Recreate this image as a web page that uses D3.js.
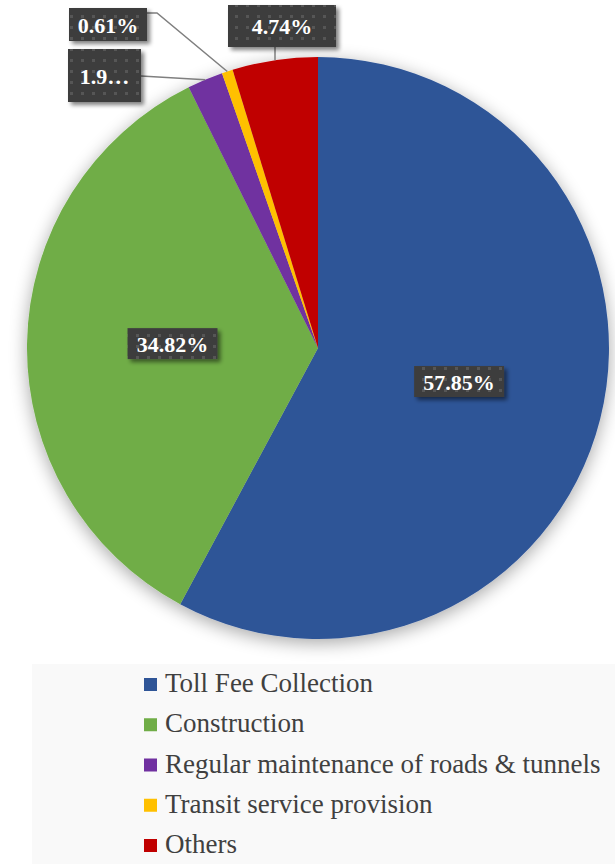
<!DOCTYPE html>
<html>
<head>
<meta charset="utf-8">
<script src="https://cdn.jsdelivr.net/npm/d3@7"></script>
<style>
  body { margin: 0; background: #fff; }
  svg { display: block; }
  svg text { font-family: "Liberation Serif", "Times New Roman", Tinos, "DejaVu Serif", "Noto Serif", serif; }
</style>
</head>
<body>
<div id="chart"></div>
<script>
const svgWidth = 615;
const svgHeight = 864;

// data
const categories = ["Toll Fee Collection", "Construction", "Regular maintenance of roads & tunnels", "Transit service provision", "Others"];
const shares = [57.85, 34.82, 1.98, 0.61, 4.74];
const labelTexts = ["57.85%", "34.82%", "1.9\u2026", "0.61%", "4.74%"];
const colors = ["#2F5597", "#70AD47", "#7030A0", "#FFC000", "#C00000"];

const cx = 318, cy = 348, radius = 291;

const svg = d3.select("#chart")
  .append("svg")
  .attr("width", svgWidth)
  .attr("height", svgHeight);

const defs = svg.append("defs");

// soft glow under the pie
const pieShadow = defs.append("filter").attr("id", "pieShadow")
  .attr("x", "-20%").attr("y", "-20%").attr("width", "140%").attr("height", "140%");
pieShadow.append("feGaussianBlur").attr("in", "SourceAlpha").attr("stdDeviation", 9).attr("result", "b");
pieShadow.append("feOffset").attr("in", "b").attr("dx", 0).attr("dy", 4).attr("result", "o");
pieShadow.append("feComponentTransfer").attr("in", "o").attr("result", "s")
  .append("feFuncA").attr("type", "linear").attr("slope", 0.35);
const m1 = pieShadow.append("feMerge");
m1.append("feMergeNode").attr("in", "s");
m1.append("feMergeNode").attr("in", "SourceGraphic");

// label box shadow
const boxShadow = defs.append("filter").attr("id", "boxShadow")
  .attr("x", "-20%").attr("y", "-30%").attr("width", "150%").attr("height", "170%");
boxShadow.append("feGaussianBlur").attr("in", "SourceAlpha").attr("stdDeviation", 2).attr("result", "b");
boxShadow.append("feOffset").attr("in", "b").attr("dx", 3).attr("dy", 3).attr("result", "o");
boxShadow.append("feComponentTransfer").attr("in", "o").attr("result", "s")
  .append("feFuncA").attr("type", "linear").attr("slope", 0.5);
const m2 = boxShadow.append("feMerge");
m2.append("feMergeNode").attr("in", "s");
m2.append("feMergeNode").attr("in", "SourceGraphic");

// dotted dark texture of the data labels
const pat = defs.append("pattern").attr("id", "dots")
  .attr("patternUnits", "userSpaceOnUse").attr("width", 11).attr("height", 11);
pat.append("rect").attr("width", 11).attr("height", 11).attr("fill", "#3e3e3e");
pat.append("rect").attr("x", 4).attr("y", 4).attr("width", 3).attr("height", 3).attr("fill", "#565656");

const pie = d3.pie().sort(null).value(d => d);
const arcs = pie(shares);

const arc = d3.arc().innerRadius(0).outerRadius(radius);
const midArc = d3.arc().innerRadius(radius * 0.5).outerRadius(radius * 0.5);
const edgeArc = d3.arc().innerRadius(radius).outerRadius(radius);

const pieGroup = svg.append("g")
  .attr("transform", `translate(${cx}, ${cy})`);

pieGroup.append("g")
  .attr("filter", "url(#pieShadow)")
  .selectAll("path")
  .data(arcs)
  .enter()
  .append("path")
  .attr("d", arc)
  .attr("fill", (d, i) => colors[i]);

// label boxes: inner ones sit on the half-radius, outer ones are placed like Excel did
const outside = {
  2: { x: 104.5, y: 75.5, w: 73, h: 53, from: [141, 76] },
  3: { x: 108, y: 24.5, w: 78, h: 33, from: [147, 13], elbow: [157, 13] },
  4: { x: 282, y: 26, w: 108, h: 42, from: [275, 47] }
};

const labelGroup = svg.append("g");

arcs.forEach((d, i) => {
  let x, y, w, h;
  if (outside[i]) {
    const o = outside[i];
    x = o.x; y = o.y; w = o.w; h = o.h;
    const end = edgeArc.centroid(d);
    const ex = cx + end[0], ey = cy + end[1];
    const pts = [o.from];
    if (o.elbow) pts.push(o.elbow);
    pts.push([i === 4 ? o.from[0] : ex, ey]);
    labelGroup.append("path")
      .attr("d", d3.line()(pts))
      .attr("fill", "none")
      .attr("stroke", "#7f7f7f")
      .attr("stroke-width", 1.5);
  } else {
    const c = midArc.centroid(d);
    x = cx + c[0]; y = cy + c[1] - 2;
    w = 90; h = 31;
  }
  labelGroup.append("rect")
    .attr("x", x - w / 2)
    .attr("y", y - h / 2)
    .attr("width", w)
    .attr("height", h)
    .attr("fill", "url(#dots)")
    .attr("filter", "url(#boxShadow)");
  labelGroup.append("text")
    .attr("x", x)
    .attr("y", y + 8)
    .attr("text-anchor", "middle")
    .attr("font-weight", "bold")
    .attr("font-size", 22)
    .attr("fill", "#fff")
    .text(labelTexts[i]);
});

// legend
svg.append("rect")
  .attr("x", 32).attr("y", 664)
  .attr("width", svgWidth - 32).attr("height", svgHeight - 664)
  .attr("fill", "#f9f9f9");

const legendY = d3.scalePoint()
  .domain(categories)
  .range([692, 853]);

const legend = svg.append("g")
  .selectAll("g")
  .data(categories)
  .enter()
  .append("g")
  .attr("transform", d => `translate(144, ${legendY(d)})`);

legend.append("rect")
  .attr("x", 0).attr("y", -14)
  .attr("width", 13).attr("height", 13)
  .attr("fill", (d, i) => colors[i]);

legend.append("text")
  .attr("x", 21)
  .attr("y", 0)
  .attr("font-size", 27)
  .attr("fill", "#404040")
  .text(d => d);
</script>
</body>
</html>
